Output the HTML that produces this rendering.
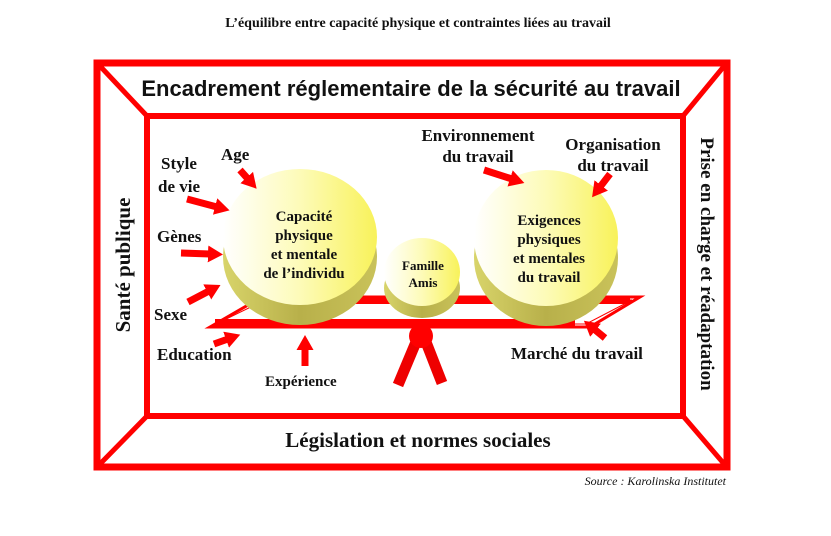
<!DOCTYPE html>
<html><head><meta charset="utf-8"><style>
body{margin:0;background:#fff}
svg{display:block}
.s{font-family:"Liberation Serif",serif;font-weight:bold;fill:#111}
</style></head><body>
<svg width="831" height="536" viewBox="0 0 831 536" xmlns="http://www.w3.org/2000/svg">
<defs>
<marker id="ah" markerUnits="userSpaceOnUse" markerWidth="15" markerHeight="17" refX="2" refY="8.5" orient="auto">
<path d="M0,0 L15,8.5 L0,17 z" fill="#f00"/>
</marker>
<linearGradient id="top" x1="0" y1="0" x2="1" y2="0">
<stop offset="0" stop-color="#ffffff"/><stop offset="0.5" stop-color="#fdfbb8"/><stop offset="1" stop-color="#f8f25a"/>
</linearGradient>
<linearGradient id="side" x1="0" y1="0" x2="1" y2="0">
<stop offset="0" stop-color="#d8d46a"/><stop offset="0.5" stop-color="#b8b04a"/><stop offset="1" stop-color="#c9c25a"/>
</linearGradient>
</defs>
<text x="418" y="27" text-anchor="middle" class="s" style="font-size:14px">L’équilibre entre capacité physique et contraintes liées au travail</text>
<rect x="97" y="63" width="630" height="404" fill="none" stroke="#f00" stroke-width="7"/>
<rect x="147" y="116" width="536" height="300" fill="none" stroke="#f00" stroke-width="6"/>
<g stroke="#f00" stroke-width="5">
<line x1="99" y1="65" x2="147" y2="116"/>
<line x1="725" y1="65" x2="683" y2="116"/>
<line x1="99" y1="465" x2="147" y2="416"/>
<line x1="725" y1="465" x2="683" y2="416"/>
</g>
<text x="411" y="96" text-anchor="middle" style="font-family:'Liberation Sans',sans-serif;font-weight:bold;font-size:22px;fill:#111">Encadrement réglementaire de la sécurité au travail</text>
<text x="418" y="447" text-anchor="middle" class="s" style="font-size:21px">Législation et normes sociales</text>
<text transform="translate(130,265) rotate(-90)" text-anchor="middle" class="s" style="font-size:21px">Santé publique</text>
<text transform="translate(701,264) rotate(90)" text-anchor="middle" class="s" style="font-size:19px">Prise en charge et réadaptation</text>
<polygon points="210,327 262,297 640,297 590,327" fill="none" stroke="#f00" stroke-width="3"/>
<polygon points="216,324 265,300 632,300 586,324" fill="none" stroke="#f00" stroke-width="1"/>
<rect x="300" y="296" width="330" height="8" fill="#f00"/>
<rect x="215" y="319" width="360" height="9" fill="#f00"/>
<g stroke="#e00" stroke-width="11">
<line x1="416" y1="342" x2="398" y2="385"/>
<line x1="426" y1="342" x2="442" y2="383"/>
</g>
<circle cx="421" cy="336" r="12" fill="#f00"/>
<g>
<ellipse cx="300" cy="257" rx="77" ry="68" fill="url(#side)"/>
<ellipse cx="300" cy="237" rx="77" ry="68" fill="url(#top)"/>
<ellipse cx="422" cy="288" rx="38" ry="30" fill="url(#side)"/>
<ellipse cx="422" cy="272" rx="38" ry="34" fill="url(#top)"/>
<ellipse cx="546" cy="258" rx="72" ry="68" fill="url(#side)"/>
<ellipse cx="546" cy="238" rx="72" ry="68" fill="url(#top)"/>
</g>
<g class="s" text-anchor="middle" style="font-size:15px">
<text x="304" y="221">Capacité</text><text x="304" y="240">physique</text><text x="304" y="259">et mentale</text><text x="304" y="278">de l’individu</text>
<text x="423" y="270" style="font-size:13px">Famille</text><text x="423" y="287" style="font-size:13px">Amis</text>
<text x="549" y="225">Exigences</text><text x="549" y="244">physiques</text><text x="549" y="263">et mentales</text><text x="549" y="282">du travail</text>
</g>
<g class="s" style="font-size:17px">
<text x="161" y="169">Style</text><text x="158" y="192">de vie</text>
<text x="221" y="160">Age</text>
<text x="157" y="242">Gènes</text>
<text x="154" y="320">Sexe</text>
<text x="157" y="360">Education</text>
<text x="265" y="386" style="font-size:15px">Expérience</text>
<text x="478" y="141" text-anchor="middle">Environnement</text><text x="478" y="162" text-anchor="middle">du travail</text>
<text x="613" y="150" text-anchor="middle">Organisation</text><text x="613" y="171" text-anchor="middle">du travail</text>
<text x="511" y="359">Marché du travail</text>
</g>
<text x="726" y="485" text-anchor="end" style="font-family:'Liberation Serif',serif;font-style:italic;font-size:12px;fill:#111">Source : Karolinska Institutet</text>
<g stroke="#f00" stroke-width="7" marker-end="url(#ah)">
<line x1="240" y1="170" x2="248" y2="179"/>
<line x1="187" y1="199" x2="217" y2="207"/>
<line x1="181" y1="253" x2="210" y2="254"/>
<line x1="188" y1="302" x2="209" y2="291"/>
<line x1="214" y1="344" x2="228" y2="339"/>
<line x1="305" y1="366" x2="305" y2="348"/>
<line x1="484" y1="170" x2="512" y2="179"/>
<line x1="610" y1="174" x2="600" y2="187"/>
<line x1="605" y1="338" x2="594" y2="329"/>
</g>
</svg>
</body></html>
